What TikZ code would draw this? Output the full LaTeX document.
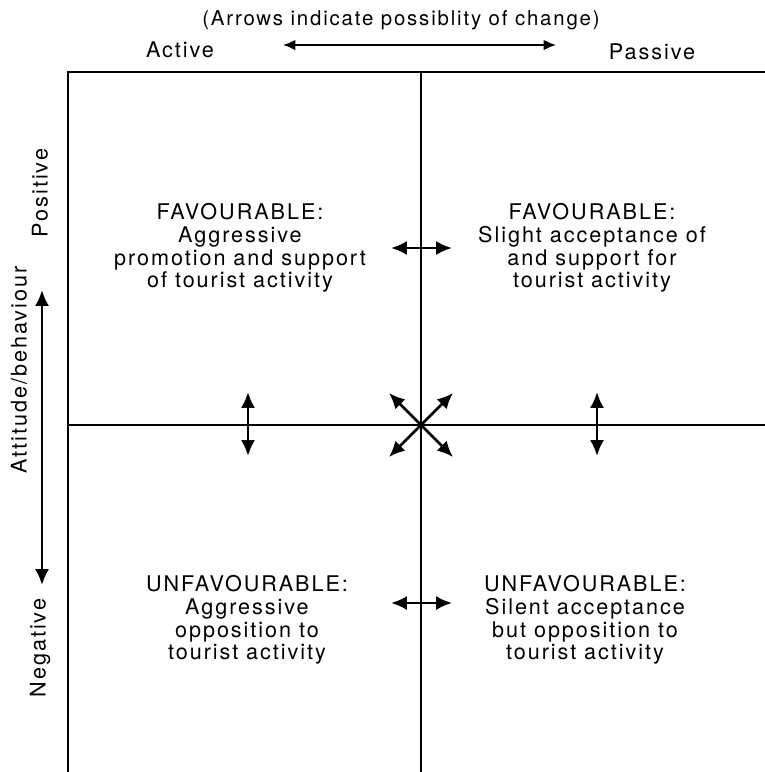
\documentclass[tikz,border=0pt]{standalone}
\usepackage{fontspec}
\setmainfont[LetterSpace=9]{TeX Gyre Heros}
\usetikzlibrary{arrows,arrows.meta,positioning,calc}
\tikzset{>={Latex[length=9pt,width=8pt]}}

\tikzset{
	label/.style={align=center, font=\fontsize{12.3}{13}\selectfont, inner sep=0pt},
	frame/.style={line width=0.9pt},
	change/.style={<->, line width=1.5pt}
}

\begin{document}
\begin{tikzpicture}[x=0.02cm, y=-0.02cm]

	\useasboundingbox (0,0) rectangle (765,772);

	% frame and quadrants
	\coordinate (frame-tl) at (68,72);
	\coordinate (frame-tr) at (765,72);
	\coordinate (frame-bl) at (68,772);
	\coordinate (mid-top) at (421,72);
	\coordinate (mid-bottom) at (421,772);
	\coordinate (mid-left) at (68,425);
	\coordinate (mid-right) at (765,425);
	\coordinate (centre) at (421,425);

	\draw[frame] (frame-bl) -- (frame-tl) -- (frame-tr);
	\draw[frame] (mid-top) -- (mid-bottom);
	\draw[frame] (mid-left) -- (mid-right);

	% axis labels
	\node (title) [label, font=\fontsize{11.6}{13}\selectfont] at (401,20) {(Arrows indicate possiblity of change)};
	\node (active) [label] at (180,50) {Active};
	\node (passive) [label] at (652,52) {Passive};

	\node (positive) [label, rotate=90] at (40,193) {Positive};
	\node (negative) [label, rotate=90] at (40,648) {Negative};
	\node (attitude) [label, rotate=90] at (19,370) {Attitude/behaviour};

	\coordinate (active-end) at (283,45);
	\coordinate (passive-end) at (556,45);
	\draw[change, line width=1.1pt, >={Latex[length=7pt,width=6pt]}] (active-end) -- (passive-end);

	\coordinate (positive-end) at (42,290);
	\coordinate (negative-end) at (42,585);
	\draw[change] (positive-end) -- (negative-end);

	% quadrant texts
	\node (fav-active) [label] at (240,248) {FAVOURABLE:\\Aggressive\\promotion and support\\of tourist activity};
	\node (fav-passive) [label] at (592,248) {FAVOURABLE:\\Slight acceptance of\\and support for\\tourist activity};
	\node (unfav-active) [label] at (247,620) {UNFAVOURABLE:\\Aggressive\\opposition to\\tourist activity};
	\node (unfav-passive) [label] at (585,620) {UNFAVOURABLE:\\Silent acceptance\\but opposition to\\tourist activity};

	% arrows of change between quadrants
	\coordinate (fav-left) at (391,248);
	\coordinate (fav-right) at (452,248);
	\draw[change] (fav-left) -- (fav-right);

	\coordinate (unfav-left) at (391,603);
	\coordinate (unfav-right) at (452,603);
	\draw[change] (unfav-left) -- (unfav-right);

	\coordinate (active-up) at (248,392);
	\coordinate (active-down) at (248,456);
	\draw[change] (active-up) -- (active-down);

	\coordinate (passive-up) at (597,392);
	\coordinate (passive-down) at (597,456);
	\draw[change] (passive-up) -- (passive-down);

	\coordinate (diag-nw) at (389,393);
	\coordinate (diag-ne) at (453,393);
	\coordinate (diag-sw) at (389,457);
	\coordinate (diag-se) at (453,457);
	\draw[change] (diag-nw) -- (diag-se);
	\draw[change] (diag-ne) -- (diag-sw);

\end{tikzpicture}
\end{document}
